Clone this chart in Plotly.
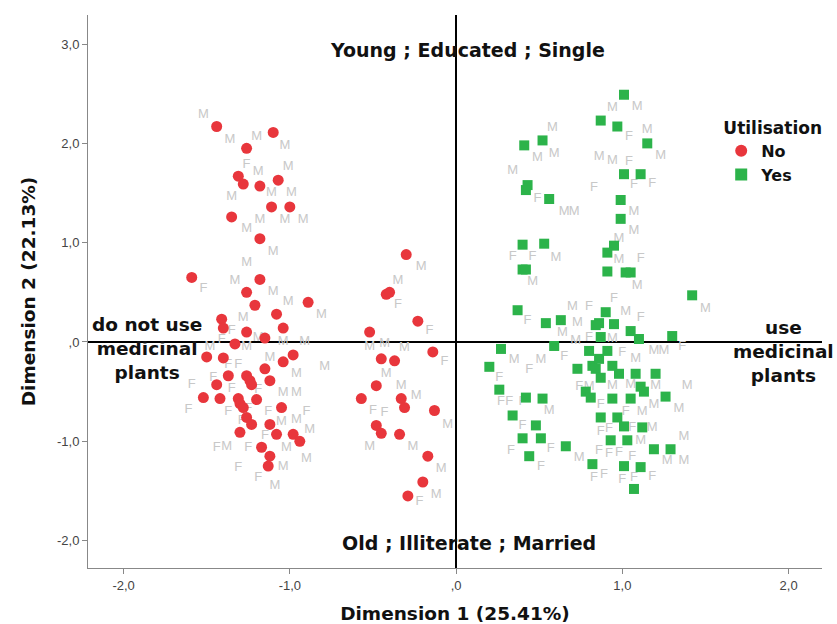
import plotly.graph_objects as go

# --- Object scores: utilisation = No (red circles)
no_x = [-1.44, -1.10, -1.26, -1.31, -1.28, -1.18, -1.07, -1.11, -1.00, -1.35, -1.18,
        -1.59, -1.18, -1.26, -1.21, -0.89, -1.08, -1.41, -1.40, -1.26, -1.04, -1.15,
        -1.33, -1.50, -1.40, -0.98, -1.04, -1.15, -1.37, -1.26, -1.24, -1.23, -1.12,
        -1.44, -1.52, -1.42, -1.31, -1.30, -1.28, -1.20, -1.05, -1.26, -1.23, -1.12,
        -1.30, -1.08, -0.98, -0.94, -1.17, -1.12, -1.13,
        -0.30, -0.42, -0.40, -0.23, -0.52, -0.14, -0.45, -0.37, -0.48, -0.57, -0.33,
        -0.31, -0.13, -0.48, -0.45, -0.34, -0.17, -0.20, -0.29]
no_y = [2.17, 2.11, 1.95, 1.67, 1.59, 1.57, 1.63, 1.36, 1.36, 1.26, 1.04,
        0.65, 0.63, 0.50, 0.37, 0.40, 0.28, 0.23, 0.14, 0.10, 0.14, 0.04,
        -0.02, -0.15, -0.16, -0.13, -0.20, -0.27, -0.34, -0.34, -0.39, -0.43, -0.39,
        -0.43, -0.56, -0.57, -0.57, -0.62, -0.66, -0.58, -0.66, -0.76, -0.83, -0.83,
        -0.91, -0.93, -0.93, -1.00, -1.06, -1.15, -1.25,
        0.88, 0.48, 0.50, 0.21, 0.10, -0.10, -0.17, -0.19, -0.44, -0.57, -0.57,
        -0.66, -0.69, -0.84, -0.92, -0.93, -1.15, -1.41, -1.55]

# --- Object scores: utilisation = Yes (green squares)
yes_x = [1.01, 0.87, 0.97, 0.52, 0.41, 1.15, 1.01, 1.11, 0.43, 0.42,
         0.56, 0.99, 0.99, 0.40, 0.53, 0.95, 0.91, 0.40, 0.42, 0.91, 1.02, 1.05,
         0.37, 0.54, 0.63, 0.86, 0.84, 0.87, 0.27, 0.59, 0.80, 0.20, 0.73, 0.82,
         0.26, 0.78, 0.81, 0.42, 0.52, 0.34, 1.42, 0.90, 0.95, 1.05, 1.10, 1.30,
         0.91, 0.86, 0.84, 0.94, 0.98, 0.87, 1.08, 1.20, 1.11, 1.13, 0.94, 1.05,
         1.26, 0.48, 0.40, 0.51, 0.66, 0.44, 0.82, 0.87, 0.97, 1.01, 1.12, 0.93,
         1.03, 1.19, 1.29, 1.01, 1.11, 1.07]
yes_y = [2.49, 2.23, 2.17, 2.03, 1.98, 2.00, 1.69, 1.69, 1.58, 1.53,
         1.44, 1.43, 1.24, 0.98, 0.99, 0.97, 0.90, 0.73, 0.73, 0.71, 0.70, 0.70,
         0.32, 0.19, 0.22, 0.19, 0.17, 0.05, -0.07, -0.04, -0.09, -0.25, -0.27, -0.24,
         -0.48, -0.50, -0.56, -0.56, -0.57, -0.74, 0.47, 0.30, 0.18, 0.11, 0.03, 0.06,
         -0.09, -0.17, -0.27, -0.24, -0.32, -0.36, -0.32, -0.32, -0.45, -0.50, -0.57, -0.57,
         -0.55, -0.84, -0.97, -0.97, -1.05, -1.15, -1.23, -0.76, -0.76, -0.85, -0.86, -0.99,
         -0.99, -1.08, -1.08, -1.25, -1.26, -1.48]

# --- Gender category labels (M)
male_x = [-1.52, -1.36, -1.20, -1.03, -1.19, -1.01, -1.35, -1.11, -0.99, -1.18, -1.03,
          -0.92, -1.26, -1.10, -1.26, -1.33, -1.10, -1.01, -0.81, -1.28, -1.19, -1.48,
          -1.26, -1.04, -0.91, -1.12, -0.79, -0.96, -1.04, -0.96, -1.05, -0.96, -0.88,
          -1.38, -1.02, -0.90, -1.04, -1.09,
          -0.21, -0.35, -0.52, -0.43, -0.31, -0.42, -0.33, -0.24, -0.05, -0.52, -0.26,
          -0.09, -0.12,
          0.94, 1.09, 1.15, 0.58, 0.49, 0.59, 1.23, 0.86, 0.94, 0.34, 0.65, 0.71, 1.07,
          1.07, 0.98, 0.60, 0.98, 0.46, 1.09, 0.70, 0.73, 0.64, 0.72, 0.35, 0.51, 0.80,
          0.56, 1.50, 1.02, 0.94, 1.19, 1.25, 1.08, 0.94, 1.05, 1.20, 1.39, 0.74, 1.12,
          1.19, 1.34, 1.18, 1.11, 1.37, 1.27, 1.37]
male_y = [2.29, 2.04, 2.07, 1.98, 1.71, 1.76, 1.46, 1.50, 1.50, 1.23, 1.23,
          1.23, 1.14, 0.91, 0.80, 0.62, 0.51, 0.41, 0.27, 0.24, 0.04, -0.05,
          -0.05, 0.00, 0.00, -0.16, -0.25, -0.32, -0.51, -0.51, -0.80, -0.78, -0.88,
          -1.05, -1.06, -1.18, -1.26, -1.45,
          0.76, 0.62, -0.05, -0.02, -0.06, -0.32, -0.44, -0.54, -0.83, -1.05, -1.05,
          -1.28, -1.54,
          2.36, 2.37, 2.14, 2.16, 1.86, 1.90, 1.88, 1.87, 1.83, 1.72, 1.31, 1.31, 1.31,
          1.12, 1.04, 0.85, 0.83, 0.61, 0.57, 0.36, 0.19, 0.09, 0.01, -0.18, -0.18, -0.45,
          -0.69, 0.33, 0.30, 0.03, -0.09, -0.09, -0.17, -0.44, -0.43, -0.44, -0.44, -1.17, -0.70,
          -0.63, -0.67, -0.86, -0.99, -0.95, -1.20, -1.20]

# --- Gender category labels (F)
female_x = [-1.26, -1.52, -1.35, -1.41, -1.37, -1.31, -1.46, -1.59, -1.35, -1.19, -1.61,
            -1.37, -1.25, -1.13, -0.90, -1.29, -1.15, -1.44, -1.25, -1.31, -1.19,
            -0.35, -0.16, -0.07, -0.50, -0.43, -0.22,
            1.04, 1.04, 1.07, 1.18, 0.83, 0.49, 0.34, 0.46, 1.11, 0.95, 0.80, 0.43, 0.80,
            0.44, 0.65, 0.26, 0.74, 0.27, 0.32, 0.40, 1.11, 1.36, 1.00, 0.40, 0.33, 0.57,
            0.51, 0.83, 0.89, 0.87, 1.02, 0.87, 0.92, 1.06, 0.86, 0.92, 0.98, 1.06, 1.00,
            1.07, 1.18]
female_y = [1.79, 0.54, 0.11, 0.02, -0.23, -0.23, -0.36, -0.43, -0.47, -0.48, -0.68,
            -0.70, -0.67, -0.70, -0.70, -0.79, -0.94, -1.06, -1.06, -1.27, -1.37,
            0.38, 0.11, -0.20, -0.69, -0.71, -1.61,
            2.07, 1.82, 1.58, 1.59, 1.55, 1.44, 0.86, 0.86, 0.84, 0.44, 0.36, 0.21, 0.04,
            -0.28, -0.15, -0.36, -0.45, -0.60, -0.60, -0.60, 0.24, -0.05, -0.11, -0.84, -1.10, -1.08,
            -1.26, -1.37, -1.34, -0.63, -0.70, -0.90, -0.87, -0.86, -1.10, -1.13, -1.12, -1.16, -1.39,
            -1.37, -1.36]

tick_vals_x = [-2, -1, 0, 1, 2]
tick_text_x = ["-2,0", "-1,0", ",0", "1,0", "2,0"]
tick_vals_y = [-2, -1, 0, 1, 2, 3]
tick_text_y = ["-2,0", "-1,0", ",0", "1,0", "2,0", "3,0"]

LABEL_GRAY = "#c8c8c8"
BOLD = "DejaVu Sans"
INK = "#111111"

fig = go.Figure()
fig.add_trace(go.Scatter(x=male_x, y=male_y, mode="text", text=["M"] * len(male_x),
                         textfont=dict(family="Liberation Sans", size=13, color=LABEL_GRAY),
                         showlegend=False, hoverinfo="skip"))
fig.add_trace(go.Scatter(x=female_x, y=female_y, mode="text", text=["F"] * len(female_x),
                         textfont=dict(family="Liberation Sans", size=13, color=LABEL_GRAY),
                         showlegend=False, hoverinfo="skip"))
fig.add_trace(go.Scatter(x=no_x, y=no_y, mode="markers", name="<b>No</b>",
                         marker=dict(symbol="circle", size=11, color="#E8363C", line=dict(width=0))))
fig.add_trace(go.Scatter(x=yes_x, y=yes_y, mode="markers", name="<b>Yes</b>",
                         marker=dict(symbol="square", size=10, color="#2CB34A", line=dict(width=0))))

big_font = dict(family=BOLD, size=19, color=INK)
side_font = dict(family=BOLD, size=18.5, color=INK)
fig.add_annotation(x=0.07, y=2.94, text="<b>Young ; Educated ; Single</b>", showarrow=False, font=big_font)
fig.add_annotation(x=0.08, y=-2.02, text="<b>Old ; Illiterate ; Married</b>", showarrow=False, font=big_font)
fig.add_annotation(x=-1.86, y=-0.07, text="<b>do not use<br>medicinal<br>plants</b>", showarrow=False,
                   font=side_font, align="center")
fig.add_annotation(x=1.97, y=-0.10, text="<b>use<br>medicinal<br>plants</b>", showarrow=False,
                   font=side_font, align="center")

axis_common = dict(showgrid=False, zeroline=True, zerolinecolor="#000000", zerolinewidth=1.5,
                   showline=True, linecolor="#888888", linewidth=1, ticks="outside", ticklen=5,
                   tickcolor="#888888", tickfont=dict(family="Liberation Sans", size=13, color="#444444"),
                   mirror=False, automargin=False)

fig.update_layout(
    width=837, height=624,
    margin=dict(l=88, r=15, t=15, b=56),
    paper_bgcolor="white", plot_bgcolor="white",
    xaxis=dict(range=[-2.214, 2.201], tickvals=tick_vals_x, ticktext=tick_text_x,
               title=dict(text="<b>Dimension 1 (25.41%)</b>", font=dict(family=BOLD, size=18.5, color=INK),
                          standoff=16),
               **axis_common),
    yaxis=dict(range=[-2.276, 3.293], tickvals=tick_vals_y, ticktext=tick_text_y,
               title=dict(text="<b>Dimension 2 (22.13%)</b>", font=dict(family=BOLD, size=18.5, color=INK),
                          standoff=16),
               **axis_common),
    legend=dict(x=1.003, y=0.825, xanchor="right", yanchor="top", bgcolor="rgba(255,255,255,0)",
                title=dict(text="<b>Utilisation</b>", side="top center",
                           font=dict(family=BOLD, size=17, color=INK)),
                font=dict(family=BOLD, size=16, color=INK),
                itemsizing="constant", tracegroupgap=0),
)

fig.write_html("out.html", config={"displayModeBar": False},
               post_script="document.body.style.margin='0';")
